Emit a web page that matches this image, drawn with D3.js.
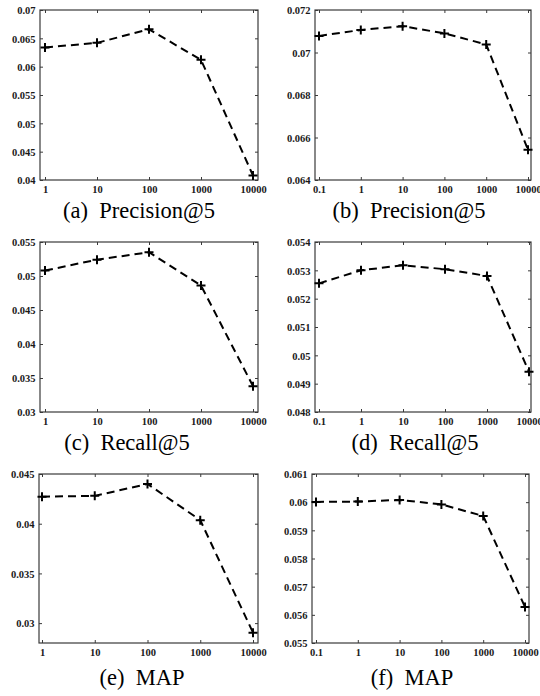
<!DOCTYPE html>
<html>
<head>
<meta charset="utf-8">
<script src="https://cdn.jsdelivr.net/npm/d3@7/dist/d3.min.js"></script>
<style>
  html, body { margin: 0; padding: 0; background: #fff; }
  svg { display: block; }
</style>
</head>
<body>
<svg id="chart" width="540" height="696"></svg>
<script>
// ---- data ----
const paramsLeft  = [1, 10, 100, 1000, 10000];
const paramsRight = [0.1, 1, 10, 100, 1000, 10000];
const xLabelsLeft  = ["1", "10", "100", "1000", "10000"];
const xLabelsRight = ["0.1", "1", "10", "100", "1000", "10000"];

const precisionLeft  = [0.0634, 0.0642, 0.0666, 0.0612, 0.0408];
const precisionRight = [0.07078, 0.07106, 0.07124, 0.07090, 0.07038, 0.06542];
const recallLeft     = [0.0508, 0.0524, 0.0535, 0.0486, 0.0338];
const recallRight    = [0.05254, 0.05300, 0.05318, 0.05304, 0.05280, 0.04942];
const mapLeft        = [0.04272, 0.04280, 0.04400, 0.04036, 0.02904];
const mapRight       = [0.06001, 0.06002, 0.06008, 0.05992, 0.05951, 0.05628];

const yTicksA = [0.04, 0.045, 0.05, 0.055, 0.06, 0.065, 0.07];
const yTicksB = [0.064, 0.066, 0.068, 0.07, 0.072];
const yTicksC = [0.03, 0.035, 0.04, 0.045, 0.05, 0.055];
const yTicksD = [0.048, 0.049, 0.05, 0.051, 0.052, 0.053, 0.054];
const yTicksE = [0.03, 0.035, 0.04, 0.045];
const yTicksF = [0.055, 0.056, 0.057, 0.058, 0.059, 0.06, 0.061];

const yDomainA = [0.04, 0.07];
const yDomainB = [0.064, 0.072];
const yDomainC = [0.03, 0.055];
const yDomainD = [0.048, 0.054];
const yDomainE = [0.028, 0.045];
const yDomainF = [0.055, 0.061];

const captions = ["(a)\u2002Precision@5", "(b)\u2002Precision@5", "(c)\u2002Recall@5",
                  "(d)\u2002Recall@5", "(e)\u2002MAP", "(f)\u2002MAP"];

// ---- layout ----
const panels = [
  { x: paramsLeft,  xl: xLabelsLeft,  y: precisionLeft,  yt: yTicksA, yd: yDomainA, box: [40, 258, 10, 180],  pr: [45, 253],  cap: [139, 218] },
  { x: paramsRight, xl: xLabelsRight, y: precisionRight, yt: yTicksB, yd: yDomainB, box: [315, 531, 10, 180], pr: [319, 528], cap: [409, 218] },
  { x: paramsLeft,  xl: xLabelsLeft,  y: recallLeft,     yt: yTicksC, yd: yDomainC, box: [40, 258, 242, 412], pr: [45, 253],  cap: [127, 450] },
  { x: paramsRight, xl: xLabelsRight, y: recallRight,    yt: yTicksD, yd: yDomainD, box: [315, 531, 242, 412],pr: [319, 529], cap: [415, 450] },
  { x: paramsLeft,  xl: xLabelsLeft,  y: mapLeft,        yt: yTicksE, yd: yDomainE, box: [39, 258, 474, 643], pr: [42, 253],  cap: [142, 685] },
  { x: paramsRight, xl: xLabelsRight, y: mapRight,       yt: yTicksF, yd: yDomainF, box: [312, 529, 474, 643],pr: [316, 525], cap: [412, 685] }
];

const svg = d3.select("#chart");
const axisColor = "#3a3a3a";
const tickFont = "'Liberation Serif', 'Times New Roman', serif";

panels.forEach((p, i) => {
  const [L, R, T, B] = p.box;
  const xs = d3.scaleLog().domain([p.x[0], p.x[p.x.length - 1]]).range(p.pr);
  const ys = d3.scaleLinear().domain(p.yd).range([B, T]);
  const g = svg.append("g");

  const axL = d3.axisLeft(ys).tickValues(p.yt).tickSizeInner(-3).tickSizeOuter(0)
    .tickFormat(d => String(+d.toFixed(4)));
  const axR = d3.axisRight(ys).tickValues(p.yt).tickSizeInner(-3).tickSizeOuter(0).tickFormat("");
  const axB = d3.axisBottom(xs).tickValues(p.x).tickSizeInner(-3).tickSizeOuter(0)
    .tickFormat((d, k) => p.xl[k]);
  const axT = d3.axisTop(xs).tickValues(p.x).tickSizeInner(-3).tickSizeOuter(0).tickFormat("");

  const gl = g.append("g").attr("transform", `translate(${L},0)`).call(axL);
  const gr = g.append("g").attr("transform", `translate(${R},0)`).call(axR);
  const gb = g.append("g").attr("transform", `translate(0,${B})`).call(axB);
  const gt = g.append("g").attr("transform", `translate(0,${T})`).call(axT);

  [gl, gr, gb, gt].forEach(a => {
    a.select(".domain").remove();
    a.selectAll(".tick line").attr("stroke", axisColor).attr("stroke-width", 1);
    a.selectAll("text").attr("fill", "#1a1a1a").attr("font-family", tickFont)
      .attr("font-weight", "bold").attr("font-size", 10.5);
  });
  gl.selectAll(".tick text").attr("x", -4.5).attr("dy", "0.35em");
  gb.selectAll(".tick text").attr("y", 13).attr("dy", 0);

  g.append("rect").attr("x", L).attr("y", T).attr("width", R - L).attr("height", B - T)
    .attr("fill", "none").attr("stroke", axisColor).attr("stroke-width", 1.2);

  const line = d3.line().x((d, k) => xs(p.x[k])).y(d => ys(d));
  g.append("path").datum(p.y).attr("d", line)
    .attr("fill", "none").attr("stroke", "#000").attr("stroke-width", 2)
    .attr("stroke-dasharray", "8,5");

  g.selectAll(".mk").data(p.y).enter().append("path")
    .attr("d", (d, k) => {
      const cx = xs(p.x[k]), cy = ys(d), r = 4.5;
      return `M${cx - r},${cy}H${cx + r}M${cx},${cy - r}V${cy + r}`;
    })
    .attr("stroke", "#000").attr("stroke-width", 2);

  g.append("text").attr("x", p.cap[0]).attr("y", p.cap[1]).attr("text-anchor", "middle")
    .attr("font-family", tickFont).attr("font-size", 22.5).attr("fill", "#000")
    .text(captions[i]);
});
</script>
</body>
</html>
